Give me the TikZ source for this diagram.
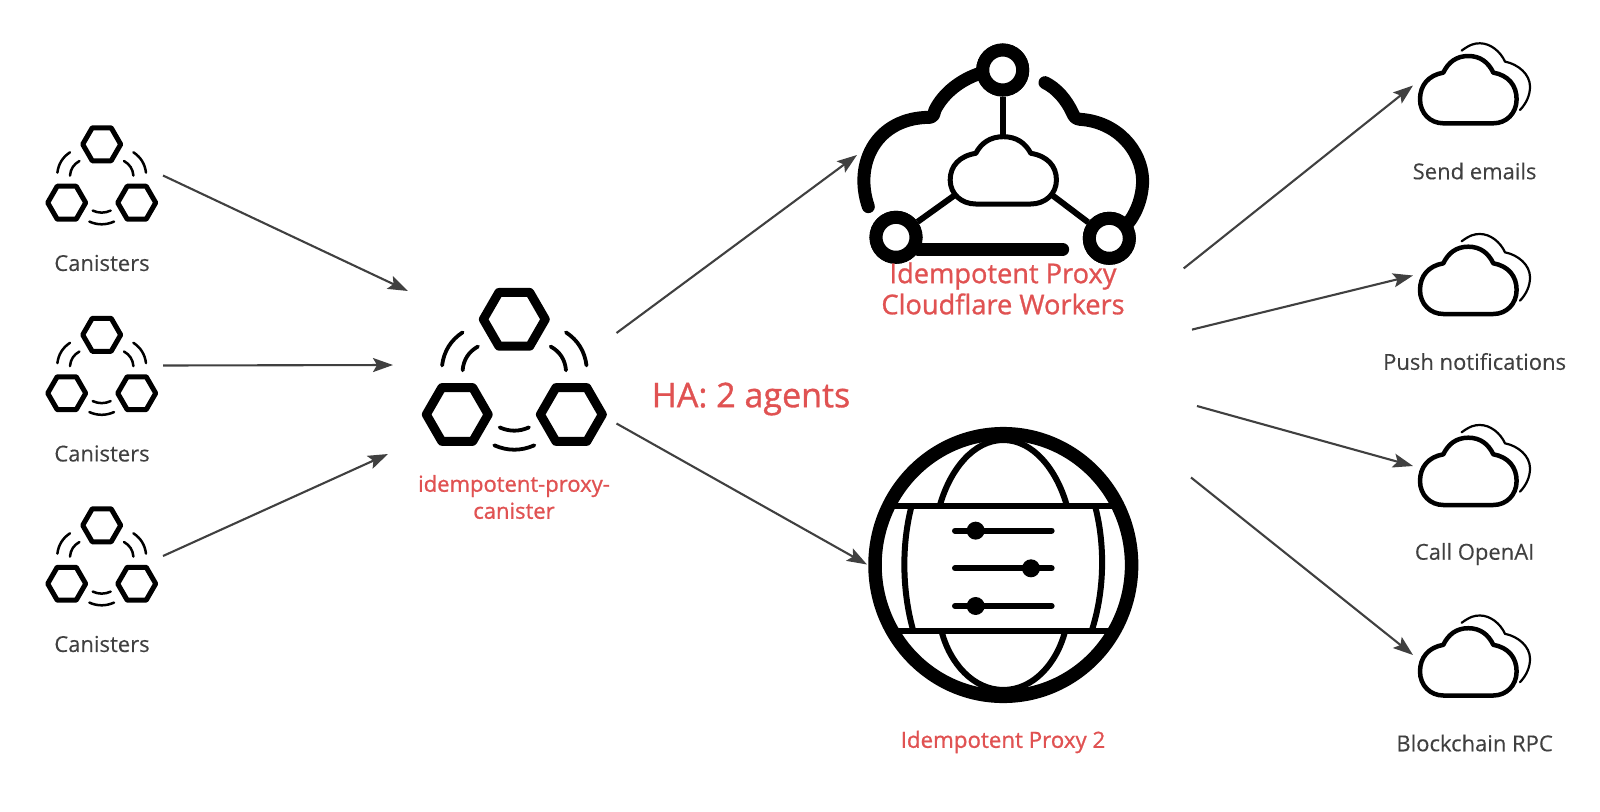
\documentclass[tikz,border=0pt]{standalone}
\usepackage{fontspec}
\setmainfont[FakeBold=0.25]{Open Sans}
\newfontfamily\redfont[FakeBold=1]{Open Sans}
\usetikzlibrary{arrows.meta, positioning}
\definecolor{proxyred}{HTML}{E05252}
\definecolor{arrowgray}{HTML}{404040}

\begin{document}
\begin{tikzpicture}[
  x=1pt, y=-1pt,
  link/.style={-{Stealth[length=20pt, width=14pt, inset=4pt]}, line width=2.1pt, arrowgray},
  label/.style={font=\fontsize{22}{26}\selectfont, text=arrowgray, inner sep=0pt},
  redlabel/.style={font=\redfont\fontsize{#1}{#1}\selectfont, text=proxyred, inner sep=0pt},
  ring/.style={circle, draw=black, fill=white, line width=13pt, minimum size=40pt, inner sep=0pt},
  spoke/.style={line width=6pt, black},
  thickarc/.style={line width=13pt, black, line cap=round, line join=round},
  slider/.style={line width=6pt, black, line cap=round},
  knob/.style={circle, fill=black, minimum size=18pt, inner sep=0pt},
  pics/canisters/.style 2 args={code={
    \foreach \cx/\cy in {0/0, -35/58.4, 35/58.4}
      \draw[line width=#1, line join=round, shift={(\cx,\cy)}]
        (0:19) -- (60:19) -- (120:19) -- (180:19) -- (240:19) -- (300:19) -- cycle;
    \draw[line width=#2, line cap=round]
      (-44.3,28.3) .. controls (-43.2,19.6) and (-39,12.8) .. (-31.7,8)
      (-31.7,31.3) .. controls (-31.2,24.8) and (-28,19.9) .. (-22.3,16.7)
      (44.3,28.3) .. controls (43.2,19.6) and (39,12.8) .. (31.7,8)
      (31.7,31.3) .. controls (31.2,24.8) and (28,19.9) .. (22.3,16.7)
      (-9,66.3) .. controls (-3,69) and (3,69) .. (9,66.3)
      (-12.3,77.3) .. controls (-4.1,80.9) and (4.1,80.9) .. (12.3,77.3);
  }},
  pics/cloudshape/.style={code={
    \draw[line width=#1, line join=round]
      (-25,34) -- (25,34) .. controls (38,34) and (48.3,24) .. (48.3,10)
      .. controls (48.3,-4) and (40,-14) .. (25,-16.7)
      .. controls (20,-27) and (12,-33.3) .. (0,-33.3)
      .. controls (-12,-33.3) and (-20,-27) .. (-25,-16.7)
      .. controls (-40,-14) and (-48.3,-4) .. (-48.3,10)
      .. controls (-48.3,24) and (-38,34) .. (-25,34) -- cycle;
  }},
  pics/service/.style={code={
    \pic {cloudshape=4.5pt};
    \draw[line width=2.2pt, line cap=round]
      (-6.7,-38.7) .. controls (2,-45) and (6,-46) .. (11.7,-46)
      .. controls (22,-46) and (32,-38) .. (36.7,-27.7)
      .. controls (50,-25) and (61.7,-15) .. (61.7,-2.7)
      .. controls (61.7,6) and (58,14) .. (51.7,20.7);
  }},
]
\useasboundingbox (0,0) rectangle (1600,811);

% --- Canisters (left) ---
\pic (can1) at (101.7,144.3) {canisters={5}{2.5}};
\pic (can2) at (101.7,334.8) {canisters={5}{2.5}};
\pic (can3) at (101.7,525.3) {canisters={5}{2.5}};
\node[label] (can1label) at (102,263) {Canisters};
\node[label] (can2label) at (102,453.5) {Canisters};
\node[label] (can3label) at (102,644) {Canisters};

% --- idempotent-proxy-canister ---
\pic[scale=1.63] (proxy) at (514.3,319.3) {canisters={9}{3.8}};
\node[redlabel=22, align=center] (proxylabel) at (514,497)
  {idempotent-proxy-\\[5pt]canister};

\node[redlabel=34] (halabel) at (751,399) {HA: 2 agents};

% --- Cloudflare Workers ---
\begin{scope}[shift={(840,30)}, scale=0.3333]
  \draw[thickarc] (85,530) .. controls (40,400) and (110,262) .. (270,262)
    .. controls (285,258) and (280,250) .. (285,240)
    .. controls (310,190) and (360,150) .. (420,130);
  \draw[thickarc] (615,158) .. controls (650,175) and (680,210) .. (698,250)
    .. controls (703,262) and (708,266) .. (720,268)
    .. controls (830,275) and (905,360) .. (908,450)
    .. controls (908,500) and (890,550) .. (860,585);
  \draw[thickarc] (235,658) -- (668,658);
\end{scope}
\pic[xscale=1.1] (workerscloud) at (1003.3,170) {cloudshape=5pt};
\node[ring] (ringtop) at (1002.7,70) {};
\node[ring] (ringleft) at (896,237.3) {};
\node[ring] (ringright) at (1109.3,238.3) {};
\coordinate (cloudtop) at (1002.7,136);
\coordinate (cloudleft) at (955,195);
\coordinate (cloudright) at (1052,195);
\draw[spoke] (ringtop) -- (cloudtop);
\draw[spoke] (ringleft) -- (cloudleft);
\draw[spoke] (ringright) -- (cloudright);
\node[ring] at (ringtop) {};
\node[ring] at (ringleft) {};
\node[ring] at (ringright) {};
\node[redlabel=27.2, align=center] (workerslabel) at (1003,288.5)
  {Idempotent Proxy\\[2.8pt]Cloudflare Workers};

% --- Idempotent Proxy 2 ---
\draw[line width=13.5pt] (1003.3,565) ellipse [x radius=128.3, y radius=131.3];
\begin{scope}[shift={(850,410)}, scale=0.3333, line width=6pt]
  \draw (128,287) -- (790,287);
  \draw (135,663) -- (780,663);
  \draw (270,285) .. controls (300,180) and (370,90) .. (460,90)
    .. controls (550,90) and (620,180) .. (650,285);
  \draw (185,287) .. controls (155,400) and (155,540) .. (190,663);
  \draw (735,287) .. controls (765,400) and (765,540) .. (725,663);
  \draw (275,665) .. controls (300,760) and (370,840) .. (460,840)
    .. controls (550,840) and (620,760) .. (645,665);
  \draw[slider] (315,362) -- (605,362);
  \draw[slider] (315,475) -- (605,475);
  \draw[slider] (315,588) -- (605,588);
  \node[knob] (knob1) at (377,362) {};
  \node[knob] (knob2) at (543,475) {};
  \node[knob] (knob3) at (377,588) {};
\end{scope}
\node[redlabel=22.3] (proxy2label) at (1003,742) {Idempotent Proxy 2};

% --- Services (right) ---
\pic (svc1) at (1468.3,89.3) {service};
\pic (svc2) at (1468.3,280) {service};
\pic (svc3) at (1468.3,471) {service};
\pic (svc4) at (1468.3,661.5) {service};
\node[label] (svc1label) at (1474.6,171) {Send emails};
\node[label] (svc2label) at (1474.6,361.5) {Push notifications};
\node[label] (svc3label) at (1474.6,554) {Call OpenAI};
\node[label] (svc4label) at (1474.6,743) {Blockchain RPC};

% arrow ends
\coordinate (can1out) at (163,175.5);
\coordinate (can2out) at (163,365.5);
\coordinate (can3out) at (163,556);
\coordinate (proxyin1) at (408,291);
\coordinate (proxyin2) at (393,365);
\coordinate (proxyin3) at (388,454);
\coordinate (proxyout1) at (616.5,333);
\coordinate (proxyout2) at (616.5,423.5);
\coordinate (workersin) at (857,155);
\coordinate (globein) at (867,564.5);
\coordinate (svcout1) at (1183.7,268.4);
\coordinate (svcout2) at (1192,329.6);
\coordinate (svcout3) at (1197,406);
\coordinate (svcout4) at (1191,477.5);
\coordinate (svcin1) at (1413,85.5);
\coordinate (svcin2) at (1413,275.5);
\coordinate (svcin3) at (1413,466);
\coordinate (svcin4) at (1413,655);

\draw[link] (can1out) -- (proxyin1);
\draw[link] (can2out) -- (proxyin2);
\draw[link] (can3out) -- (proxyin3);
\draw[link] (proxyout1) -- (workersin);
\draw[link] (proxyout2) -- (globein);
\draw[link] (svcout1) -- (svcin1);
\draw[link] (svcout2) -- (svcin2);
\draw[link] (svcout3) -- (svcin3);
\draw[link] (svcout4) -- (svcin4);

\end{tikzpicture}
\end{document}
